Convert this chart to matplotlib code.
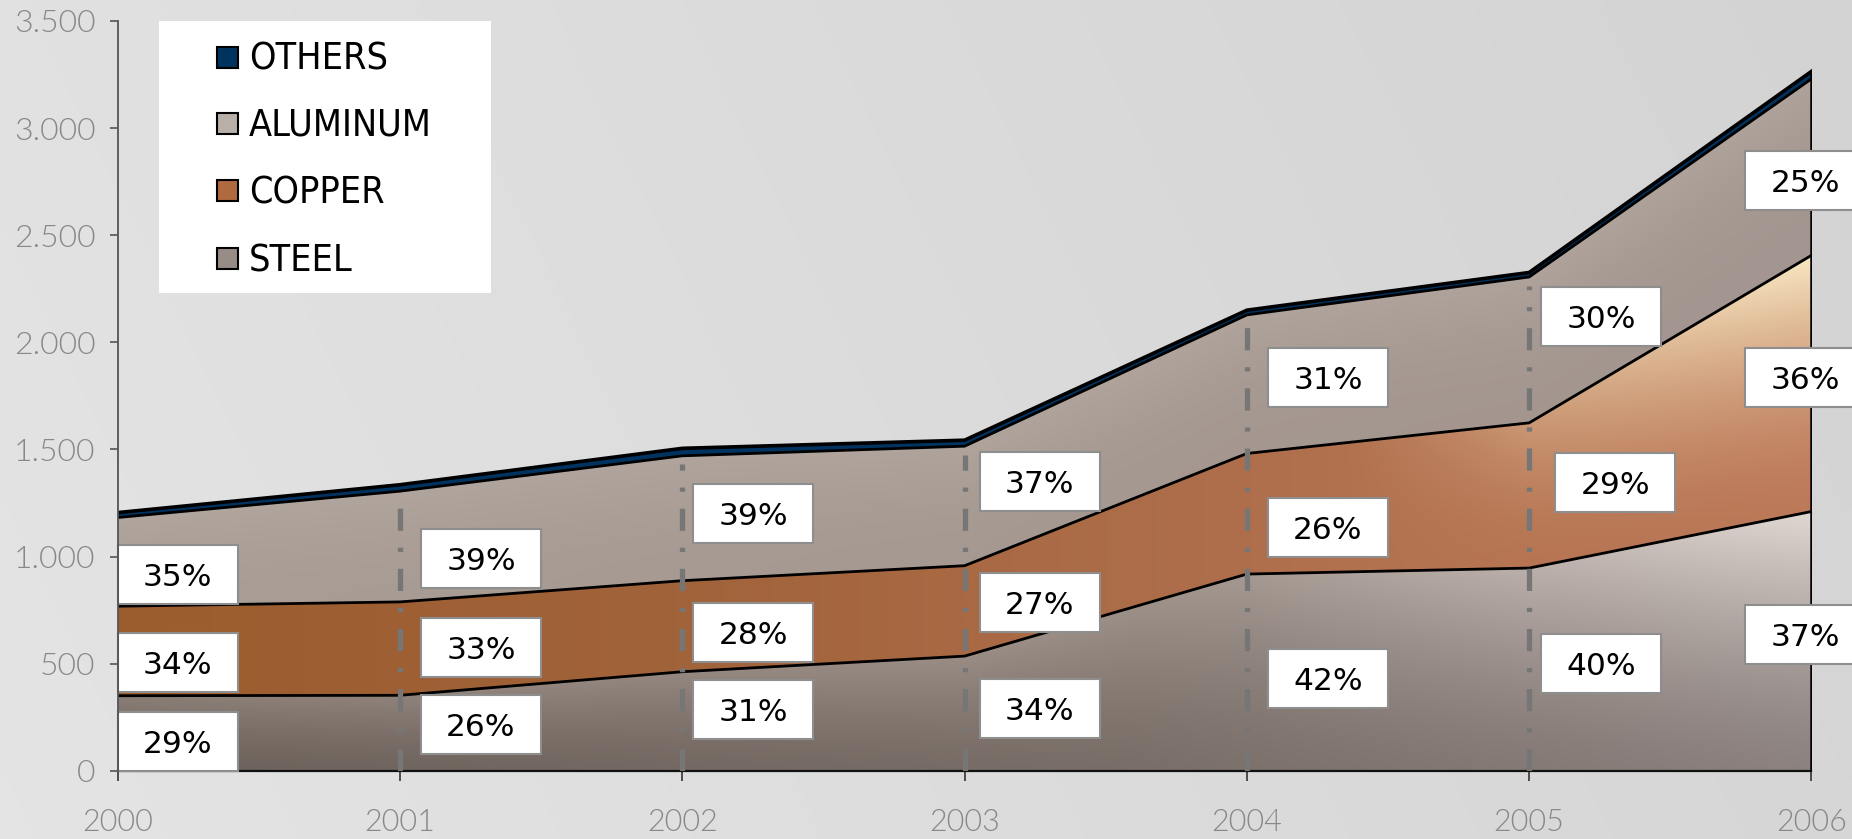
import numpy as np
import matplotlib
matplotlib.use("Agg")
import matplotlib.pyplot as plt
from matplotlib.patches import Rectangle
from matplotlib import transforms as mtransforms
from matplotlib import font_manager as fm
from matplotlib.colors import to_rgb

# ---------------- data ----------------
years = [2000, 2001, 2002, 2003, 2004, 2005, 2006]
steel = [350, 352, 462, 535, 918, 946, 1210]
copper = [418, 436, 425, 422, 563, 678, 1196]
aluminum = [414, 517, 583, 558, 647, 681, 824]
others = [23, 30, 35, 28, 22, 21, 35]
steel_pct = ["29%", "26%", "31%", "34%", "42%", "40%", "37%"]
copper_pct = ["34%", "33%", "28%", "27%", "26%", "29%", "36%"]
aluminum_pct = ["35%", "39%", "39%", "37%", "31%", "30%", "25%"]
legend_names = ["OTHERS", "ALUMINUM", "COPPER", "STEEL"]
y_ticks = [0, 500, 1000, 1500, 2000, 2500, 3000, 3500]

# ---------------- fonts ----------------
def find_condensed():
    prefs = ["Liberation Sans Narrow", "DejaVu Sans", "Noto Sans",
             "Open Sans", "Roboto", "Lato", "Inter"]
    cands = []
    for f in fm.fontManager.ttflist:
        st = str(f.stretch)
        is_cond = (st in ("condensed", "semi-condensed", "extra-condensed")
                   or (isinstance(f.stretch, int) and f.stretch < 500)
                   or "Narrow" in f.name or "Condensed" in f.name)
        if not is_cond:
            continue
        if f.style != "normal":
            continue
        wt = f.weight if isinstance(f.weight, int) else 400
        if wt != 400:
            continue
        rank = prefs.index(f.name) if f.name in prefs else len(prefs)
        cands.append((rank, f.fname))
    if cands:
        cands.sort()
        return fm.FontProperties(fname=cands[0][1]), True
    return fm.FontProperties(family=["Liberation Sans", "DejaVu Sans"]), False

legend_fp, is_cond = find_condensed()
legend_size = 27 if is_cond else 25.5

# ---------------- layout ----------------
W, H = 1852, 839
DPI = 100
fig = plt.figure(figsize=(W / DPI, H / DPI), dpi=DPI)

def fx(px):
    return px / W

def fy(py):
    return 1 - py / H

# background gradient
bg = fig.add_axes([0, 0, 1, 1], zorder=-10)
bg.axis("off")
gx, gy = np.meshgrid(np.linspace(0, 1, 200), np.linspace(0, 1, 100))
val = 0.895 - 0.055 * gx - 0.012 * gy
bgimg = np.dstack([val, val, val])
bg.imshow(bgimg, extent=(0, 1, 0, 1), origin="lower", aspect="auto",
          interpolation="bilinear")
bg.set_xlim(0, 1)
bg.set_ylim(0, 1)

L, R, T, B = 117.7, 1811.5, 21.0, 770.7
ax = fig.add_axes([fx(L), fy(B), (R - L) / W, (B - T) / H])
ax.set_facecolor("none")

steel_top = np.array(steel, float)
copper_top = steel_top + np.array(copper, float)
alu_top = copper_top + np.array(aluminum, float)
oth_top = alu_top + np.array(others, float)
zeros = np.zeros(len(years))

# gradient images
nx, ny = 700, 800
xs = np.linspace(2000, 2006, nx)
ys = np.linspace(0, 3500, ny)
X, Y = np.meshgrid(xs, ys)
U = (X - 2000) / 6.0

def ramp(stops, colors, v):
    cols = np.array([to_rgb(c) for c in colors])
    return np.dstack([np.interp(v, stops, cols[:, k]) for k in range(3)])

def rel_t(bottom, top):
    b = np.interp(xs, years, bottom)
    t = np.interp(xs, years, top)
    return np.clip((Y - b[None, :]) / np.maximum(t - b, 1e-6)[None, :], 0, 1)

# steel
tt = rel_t(zeros, steel_top)[..., None]
c_bot = ramp([0, 0.6, 1], ["#6d615b", "#7a6e68", "#8c827f"], U)
c_top = ramp([0, 0.6, 0.85, 1], ["#8b7e77", "#9d9089", "#bdb2ad", "#e0d8d3"], U)
w = tt ** 1.4
steel_img = c_bot * (1 - w) + c_top * w

# copper
tt = rel_t(steel_top, copper_top)[..., None]
base = ramp([0, 0.33, 0.67, 0.85, 1],
            ["#9b5c2d", "#a1633a", "#af6f4d", "#b77553", "#bd7a5a"], U)
cream = np.array(to_rgb("#f8e7c2"))
w = np.clip((U[..., None] - 0.72) / 0.28, 0, 1) ** 1.3 * tt ** 1.7
copper_img = base * (1 - w) + cream * w

# aluminum
tt = rel_t(copper_top, alu_top)[..., None]
base = ramp([0, 0.5, 1], ["#a99d95", "#a69991", "#a3958f"], U)
light = np.array(to_rgb("#b9afa8"))
w = 0.5 * tt ** 2
alu_img = base * (1 - w) + light * w

for img, bot, top in [(steel_img, zeros, steel_top),
                      (copper_img, steel_top, copper_top),
                      (alu_img, copper_top, alu_top)]:
    poly = ax.fill_between(years, bot, top, facecolor="none",
                           edgecolor="none", zorder=1)
    im = ax.imshow(np.clip(img, 0, 1), extent=(2000, 2006, 0, 3500),
                   origin="lower", aspect="auto", interpolation="bilinear",
                   zorder=1)
    im.set_clip_path(poly.get_paths()[0], ax.transData)

ax.fill_between(years, alu_top, oth_top, facecolor="#00335f",
                edgecolor="none", zorder=2)

for top, lw in [(steel_top, 2.0), (copper_top, 2.0), (alu_top, 2.0),
                (oth_top, 2.6)]:
    ax.plot(years, top, color="black", lw=lw, zorder=3,
            solid_joinstyle="miter")
ax.plot([years[-1], years[-1]], [0, oth_top[-1]], color="black", lw=1.8,
        zorder=3)

# dash-dot year lines
for i in range(1, len(years) - 1):
    ax.plot([years[i], years[i]], [0, alu_top[i] - 40], color="#767676",
            lw=3.8, dashes=(4.2, 3.2, 0.8, 3.2), solid_capstyle="butt",
            dash_capstyle="butt", zorder=4)

# percentage label boxes
box_w, box_h = 1.20, 0.59
x_off = {
    "steel": [0.60, 0.81, 0.71, 0.75, 0.81, 0.72, -0.06],
    "copper": [0.60, 0.81, 0.71, 0.75, 0.81, 0.86, -0.06],
    "alu": [0.60, 0.81, 0.71, 0.75, 0.81, 0.72, -0.06],
}
y_nudge_px = {
    "steel": [8, -9, -12, -5, 6, -6, -7],
    "copper": [12, -1, 6, -8, 14, -13, -6],
    "alu": [13, 12, -5, -24, -7, -33, 13],
}
layers = [("steel", zeros, steel_top, steel_pct),
          ("copper", steel_top, copper_top, copper_pct),
          ("alu", copper_top, alu_top, aluminum_pct)]
for key, bot, top, labels in layers:
    for i, yr in enumerate(years):
        yc = (bot[i] + top[i]) / 2.0
        trans = fig.dpi_scale_trans + mtransforms.ScaledTranslation(
            yr, yc, ax.transData)
        dx = x_off[key][i]
        dy = -y_nudge_px[key][i] / DPI
        rect = Rectangle((dx - box_w / 2, dy - box_h / 2), box_w, box_h,
                         transform=trans, facecolor="white",
                         edgecolor="#8e8e8e", lw=1.5, zorder=5,
                         clip_on=False)
        ax.add_patch(rect)
        ax.text(dx, dy - 0.03, labels[i], transform=trans, ha="center",
                va="center", fontsize=22.5, family="DejaVu Sans",
                color="black", zorder=6, clip_on=False)

# axes styling
ax.set_xlim(2000, 2006)
ax.set_ylim(0, 3500)
ax.set_xticks(years)
ax.set_xticklabels([str(y) for y in years])
ax.set_yticks(y_ticks)
ax.set_yticklabels([f"{v:,.0f}".replace(",", ".") for v in y_ticks])
for s in ["top", "right"]:
    ax.spines[s].set_visible(False)
ax.spines["left"].set_color("#555555")
ax.spines["left"].set_linewidth(1.3)
ax.spines["bottom"].set_color("#111111")
ax.spines["bottom"].set_linewidth(1.6)
ax.spines["left"].set_zorder(7)
ax.tick_params(axis="y", direction="out", length=6, width=1.2,
               color="#555555", pad=10, labelcolor="#888888", labelsize=23)
ax.tick_params(axis="x", direction="out", length=7, width=1.2,
               color="#333333", pad=20, labelcolor="#888888", labelsize=22)
for lab in ax.get_xticklabels() + ax.get_yticklabels():
    lab.set_family(["Lato", "DejaVu Sans"])
    lab.set_fontweight(300)

# legend (drawn manually)
leg_colors = ["#00335f", "#b8afa9", "#b06a40", "#978c86"]
leg_rows = [57, 123, 190, 258]
fig.add_artist(Rectangle((fx(159), fy(293)), (491 - 159) / W, (293 - 21) / H,
                         transform=fig.transFigure, facecolor="white",
                         edgecolor="none", zorder=10))
for name, col, cy in zip(legend_names, leg_colors, leg_rows):
    fig.add_artist(Rectangle((fx(217), fy(cy + 10.5)), 21 / W, 21 / H,
                             transform=fig.transFigure, facecolor=col,
                             edgecolor="black", lw=1.5, zorder=11))
    fig.text(fx(249), fy(cy + 3), name, ha="left", va="center",
             fontproperties=legend_fp, fontsize=legend_size,
             color="black", zorder=12)

fig.savefig("out.png", dpi=DPI)
